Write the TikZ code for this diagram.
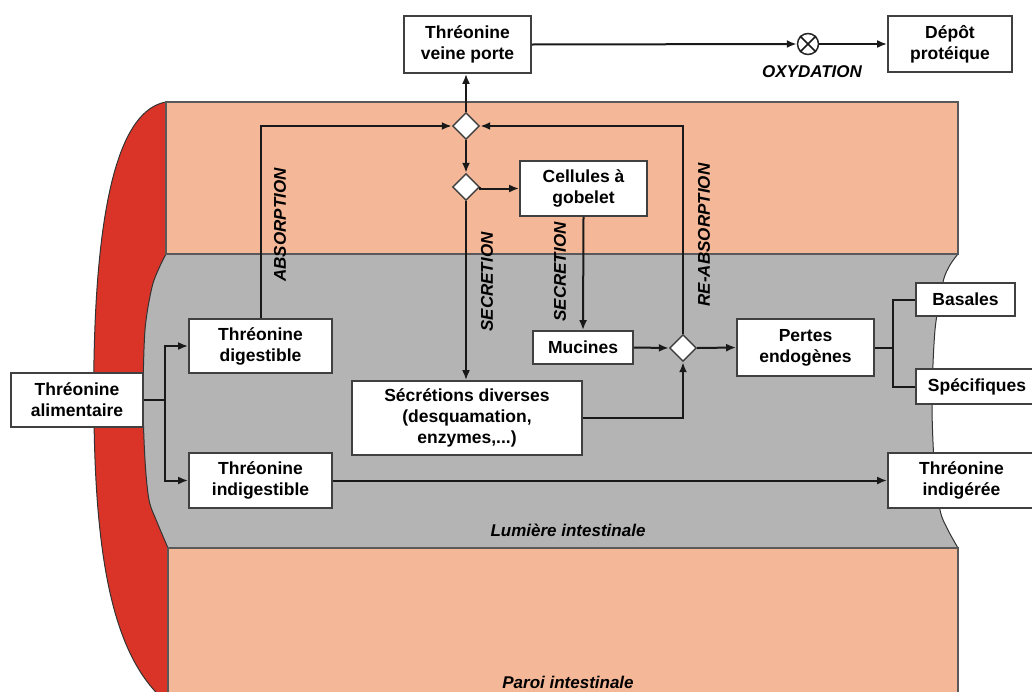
\documentclass[tikz,border=0pt]{standalone}
\usepackage{fontspec}
\setmainfont{Liberation Sans}
\usetikzlibrary{arrows.meta,shapes.geometric}
\definecolor{pinkwall}{HTML}{F4B898}
\definecolor{lumen}{HTML}{B4B4B4}
\definecolor{redwall}{HTML}{D93427}
\begin{document}
\begin{tikzpicture}[x=1pt,y=-1pt,
  box/.style={draw=black!75,line width=1.8pt,fill=white,align=center,inner sep=0pt,font=\fontsize{17.5}{21}\selectfont\bfseries},
  junc/.style={diamond,draw=black!75,line width=1.4pt,fill=white,minimum width=27pt,minimum height=27pt,inner sep=0pt},
  conn/.style={line width=2pt,draw=black!90},
  arr/.style={conn,-{Latex[length=10pt,width=8pt]}},
  lbl/.style={font=\fontsize{17}{20}\selectfont\bfseries\itshape},
  edge/.style={line width=1pt,draw=black!80}]
\useasboundingbox (0,0) rectangle (1032,691);
% lumen
\fill[lumen] plot[smooth] coordinates {(166,254) (160,266) (152,287) (145,330) (143,400) (145,460) (149,500) (157,522) (168,548)}
  -- plot[smooth] coordinates {(958,548) (948,530) (940,510) (934,460) (932,400) (935,330) (943,282) (950,265) (958,254)} -- cycle;
\draw[edge] plot[smooth] coordinates {(958,548) (948,530) (940,510) (934,460) (932,400) (935,330) (943,282) (950,265) (958,254)};
% red wall
\fill[redwall] (166,102) .. controls (120,110) and (97,200) .. (94,360) .. controls (92,530) and (105,655) .. (170,705)
  -- (168,705) -- (168,548) -- plot[smooth] coordinates {(168,548) (157,522) (149,500) (145,460) (143,400) (145,330) (152,287) (160,266) (166,254)} -- cycle;
\draw[edge] (166,102) .. controls (120,110) and (97,200) .. (94,360) .. controls (92,530) and (105,655) .. (170,705);
\draw[edge] plot[smooth] coordinates {(168,548) (157,522) (149,500) (145,460) (143,400) (145,330) (152,287) (160,266) (166,254)};
% pink walls
\filldraw[fill=pinkwall,draw=black!65,line width=1.5pt] (166,102) rectangle (958,254);
\filldraw[fill=pinkwall,draw=black!65,line width=1.5pt] (168,548) rectangle (958,705);
\node[lbl] (lum) at (568,530) {Lumière intestinale};
\node[lbl] (paroi) at (568,682) {Paroi intestinale};
% nodes
\node[box,minimum width=127pt,minimum height=57pt] (vp) at (467.5,44.5) {Thréonine\\veine porte};
\node[box,minimum width=124pt,minimum height=56pt] (dep) at (950,44) {Dépôt\\protéique};
\node[circle,draw=black!85,line width=1.5pt,minimum size=21pt,inner sep=0pt,fill=white] (ox) at (808,44) {};
\draw[conn,line width=1.5pt] (ox.north west) -- (ox.south east) (ox.north east) -- (ox.south west);
\node[lbl] (oxl) at (812,72) {OXYDATION};
\node[junc] (j1) at (466,126) {};
\node[junc] (j2) at (466,187) {};
\node[junc] (j3) at (683,348) {};
\node[box,minimum width=127pt,minimum height=55pt] (cg) at (583.5,188.5) {Cellules à\\gobelet};
\node[box,minimum width=100pt,minimum height=33pt] (mu) at (583,347.5) {Mucines};
\node[box,minimum width=230pt,minimum height=74pt] (sd) at (467,418) {Sécrétions diverses\\(desquamation,\\enzymes,...)};
\node[box,minimum width=137pt,minimum height=57pt] (pe) at (805.5,347.5) {Pertes\\endogènes};
\node[box,minimum width=99pt,minimum height=33pt] (ba) at (965.5,299.5) {Basales};
\node[box,minimum width=122pt,minimum height=35pt] (sp) at (977,386.5) {Spécifiques};
\node[box,minimum width=147pt,minimum height=55pt] (ti) at (961.5,480.5) {Thréonine\\indigérée};
\node[box,minimum width=132pt,minimum height=54pt] (ta) at (77,400) {Thréonine\\alimentaire};
\node[box,minimum width=143pt,minimum height=54pt] (td) at (260.5,346) {Thréonine\\digestible};
\node[box,minimum width=143pt,minimum height=55pt] (tg) at (260.5,480.5) {Thréonine\\indigestible};
% labels
\node[lbl,rotate=90] (labs) at (280,225) {ABSORPTION};
\node[lbl,rotate=90] (lsec1) at (487,282) {SECRETION};
\node[lbl,rotate=90] (lsec2) at (560,272) {SECRETION};
\node[lbl,rotate=90] (lreabs) at (704,235) {RE-ABSORPTION};
% connectors
\coordinate (s1) at (165,400);
\coordinate (s2) at (893,347.5);
\draw[conn] (ta.east) -- (s1);
\draw[arr] (s1) |- (td.west);
\draw[arr] (s1) |- (tg.west);
\draw[arr] (td.north) |- (j1.west);
\draw[arr] (j3.north) |- (j1.east);
\draw[arr] (j1.north) -- (vp.south -| j1.north);
\draw[arr] (j1.south) -- (j2.north);
\draw[arr] (j2.east) -- (cg.west -| j2.east) -- (cg.west);
\draw[arr] (j2.south) -- (j2.south |- sd.north);
\draw[arr] (cg.south) -- (mu.north);
\draw[arr] (mu.east) -- (j3.west);
\draw[arr] (sd.east) -| (j3.south);
\draw[arr] (j3.east) -- (pe.west);
\draw[conn] (pe.east) -- (s2);
\draw[conn] (s2) |- (ba.west);
\draw[conn] (s2) |- (sp.west);
\draw[arr] (tg.east) -- (ti.west);
\draw[arr] (vp.east) -- (ox.west);
\draw[arr] (ox.east) -- (dep.west);
\end{tikzpicture}
\end{document}
